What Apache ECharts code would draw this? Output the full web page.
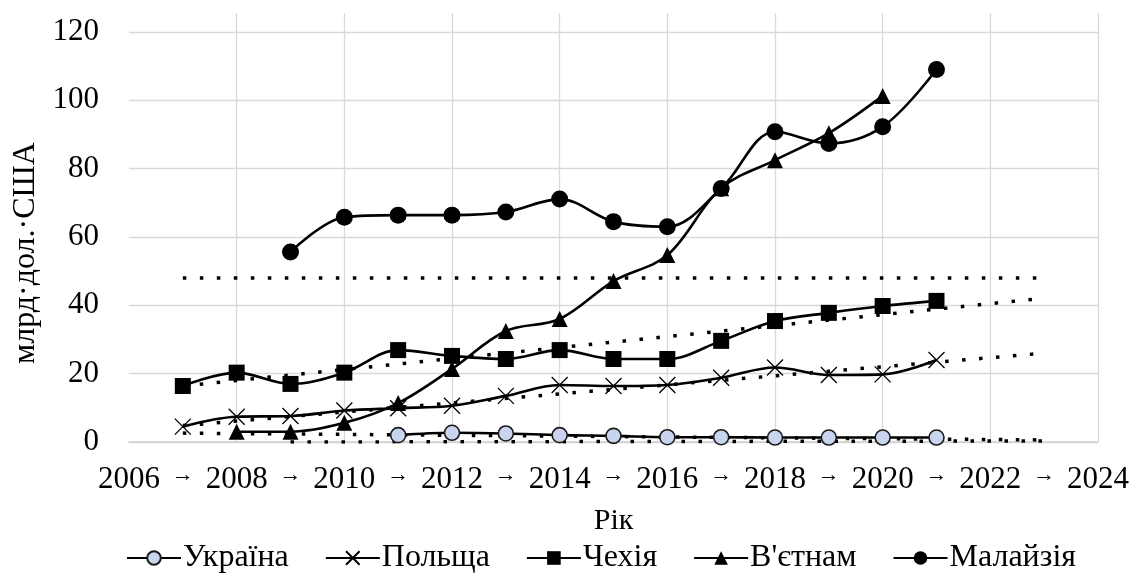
<!DOCTYPE html>
<html>
<head>
<meta charset="utf-8">
<script src="https://cdn.jsdelivr.net/npm/echarts@6/dist/echarts.min.js"></script>
<style>
html,body{margin:0;padding:0;background:#fff;}
#main{width:1132px;height:574px;}
</style>
</head>
<body>
<div id="main"></div>
<script>
// роки для кожного ряду
var yearsUkraine = [2011, 2012, 2013, 2014, 2015, 2016, 2017, 2018, 2019, 2020, 2021];
var ukraine = [2.0, 2.7, 2.5, 2.0, 1.8, 1.4, 1.4, 1.3, 1.3, 1.3, 1.3];

var yearsPoland = [2007, 2008, 2009, 2010, 2011, 2012, 2013, 2014, 2015, 2016, 2017, 2018, 2019, 2020, 2021];
var poland = [4.5, 7.4, 7.6, 9.2, 9.9, 10.6, 13.5, 16.7, 16.4, 16.7, 18.8, 21.8, 19.6, 19.8, 24.0];

var yearsCzech = [2007, 2008, 2009, 2010, 2011, 2012, 2013, 2014, 2015, 2016, 2017, 2018, 2019, 2020, 2021];
var czech = [16.4, 20.3, 17.0, 20.3, 26.9, 25.2, 24.3, 26.9, 24.3, 24.3, 29.6, 35.4, 37.8, 39.8, 41.3];

var yearsVietnam = [2008, 2009, 2010, 2011, 2012, 2013, 2014, 2015, 2016, 2017, 2018, 2019, 2020];
var vietnam = [3.0, 3.0, 5.6, 11.4, 21.4, 32.5, 36.0, 47.1, 54.7, 74.3, 82.5, 90.4, 101.3];

var yearsMalaysia = [2009, 2010, 2011, 2012, 2013, 2014, 2015, 2016, 2017, 2018, 2019, 2020, 2021];
var malaysia = [55.6, 65.8, 66.4, 66.4, 67.3, 71.1, 64.5, 63.0, 74.2, 90.8, 87.4, 92.3, 109.0];

// лінії тренду (точки початку і кінця)
var trendYears = [[2007, 2023], [2007, 2023], [2007, 2023], [2007, 2023], [2009, 2023]];
var trendValues = [[48.0, 48.0], [16.4, 42.1], [4.8, 26.0], [2.6, 0.6], [0.0, 0.3]];

var names = ['Україна', 'Польща', 'Чехія', "В'єтнам", 'Малайзія'];

function pairs(xs, ys) {
    var out = [];
    for (var i = 0; i < xs.length; i++) out.push([xs[i], ys[i]]);
    return out;
}

var dom = document.getElementById('main');
var myChart = echarts.init(dom);
var font = '"Liberation Serif", "Times New Roman", serif';

var mainLine = {color: '#000', width: 2.6};

var series = [
    {name: names[0], type: 'line', smooth: 0.35, data: pairs(yearsUkraine, ukraine),
        symbol: 'circle', symbolSize: 15, lineStyle: mainLine, z: 5,
        itemStyle: {color: '#c9d4ee', borderColor: '#1a1a1a', borderWidth: 1.6}},
    {name: names[1], type: 'line', smooth: 0.35, data: pairs(yearsPoland, poland),
        symbol: 'path://M0,0L10,10M10,0L0,10', symbolSize: 16, lineStyle: mainLine, z: 5,
        itemStyle: {color: '#000', borderColor: '#000', borderWidth: 1.3}},
    {name: names[2], type: 'line', smooth: 0.35, data: pairs(yearsCzech, czech),
        symbol: 'rect', symbolSize: 16, lineStyle: mainLine, z: 5,
        itemStyle: {color: '#000'}},
    {name: names[3], type: 'line', smooth: 0.35, data: pairs(yearsVietnam, vietnam),
        symbol: 'triangle', symbolSize: 16, lineStyle: mainLine, z: 5,
        itemStyle: {color: '#000'}},
    {name: names[4], type: 'line', smooth: 0.35, data: pairs(yearsMalaysia, malaysia),
        symbol: 'circle', symbolSize: 17, lineStyle: mainLine, z: 5,
        itemStyle: {color: '#000'}}
];

// пунктирні тренди
for (var t = 0; t < trendYears.length; t++) {
    series.push({
        name: 'trend' + t, type: 'line', data: pairs(trendYears[t], trendValues[t]),
        symbol: 'none', silent: true, z: 4,
        lineStyle: {color: '#000', width: 3.5, type: [3.5, 13.5], cap: 'butt'}
    });
}

option = {
    backgroundColor: '#fff',
    animation: false,
    textStyle: {fontFamily: font, color: '#000'},
    legend: {
        data: names,
        bottom: -5,
        left: 121,
        itemWidth: 54,
        itemHeight: 17,
        itemGap: 36,
        textStyle: {fontFamily: font, fontSize: 32, color: '#000', padding: [0, 0, 0, -3]}
    },
    grid: [
        {left: 129, right: 34, top: 32, bottom: 132},
        {left: 129, right: 34, top: 13, bottom: 132}   // тільки для вертикальної сітки
    ],
    xAxis: [
        {
            type: 'value', gridIndex: 0, min: 2006, max: 2024, interval: 1,
            name: 'Рік', nameLocation: 'middle', nameGap: 64,
            nameTextStyle: {fontFamily: font, fontSize: 30, color: '#000'},
            axisLine: {lineStyle: {color: '#d0d0d0', width: 1.5}},
            axisTick: {show: false},
            splitLine: {show: false},
            axisLabel: {
                margin: 22, fontFamily: font, fontSize: 31, color: '#000',
                formatter: function (v) {
                    return v % 2 === 0 ? String(v) : '{a|→}';
                },
                rich: {a: {fontSize: 22, fontFamily: font, color: '#000'}}
            }
        },
        {
            type: 'value', gridIndex: 1, min: 2006, max: 2024, interval: 2,
            axisLine: {show: false}, axisTick: {show: false}, axisLabel: {show: false},
            splitLine: {show: true, showMinLine: false, lineStyle: {color: '#d9d9d9', width: 1.3}}
        }
    ],
    yAxis: [
        {
            type: 'value', gridIndex: 0, min: 0, max: 120, interval: 20,
            name: 'млрд·дол.·США', nameLocation: 'middle', nameGap: 86,
            nameTextStyle: {fontFamily: font, fontSize: 32, color: '#000', padding: [0, 32, 0, 0]},
            axisLine: {show: false}, axisTick: {show: false},
            axisLabel: {margin: 30, fontFamily: font, fontSize: 31, color: '#000'},
            splitLine: {lineStyle: {color: '#d9d9d9', width: 1.3}}
        },
        {
            type: 'value', gridIndex: 1, min: 0, max: 1, show: false, splitLine: {show: false}
        }
    ],
    series: series
};

if (option && typeof option === 'object') {
    myChart.setOption(option, true);
}
</script>
</body>
</html>
